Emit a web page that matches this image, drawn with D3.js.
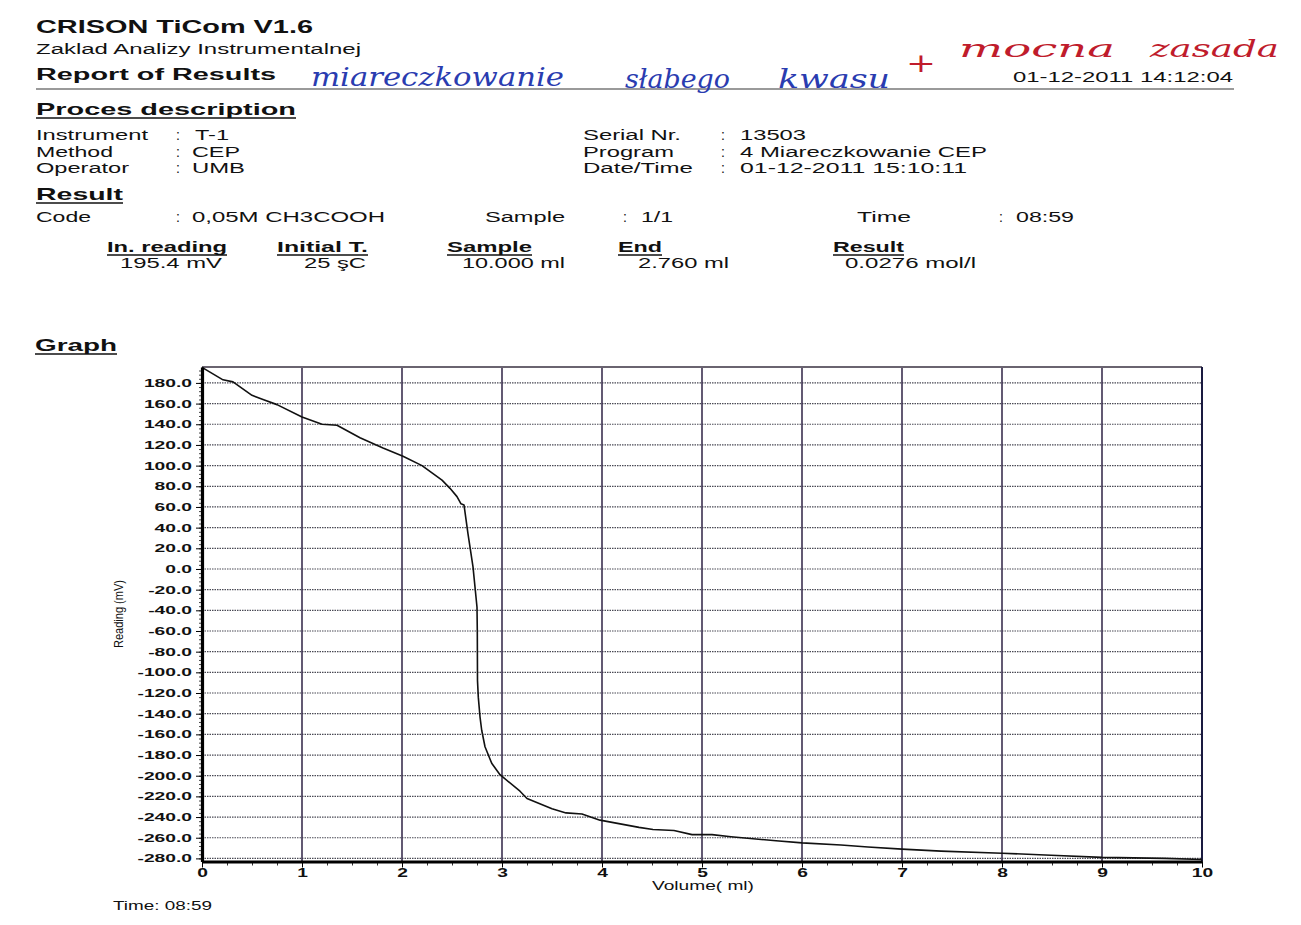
<!DOCTYPE html>
<html><head><meta charset="utf-8">
<script src="https://cdn.jsdelivr.net/npm/d3@7/dist/d3.min.js"></script>
<style>body{margin:0;background:#fff}svg{display:block}</style>
</head><body>
<svg id="c" width="1301" height="925"></svg>
<script>
// ---- data ----
const volume  = [0, 0.21, 0.31, 0.5, 0.61, 0.75, 1.0, 1.2, 1.35, 1.58, 1.81, 2.01, 2.2, 2.4, 2.48, 2.55, 2.59, 2.62, 2.66, 2.71, 2.75, 2.753, 2.755, 2.763, 2.78, 2.797, 2.83, 2.897, 2.98, 3.18, 3.25, 3.5, 3.64, 3.8, 3.98, 4.37, 4.51, 4.72, 4.9, 5.1, 5.29, 5.74, 6.0, 6.39, 6.66, 7.0, 7.39, 8.0, 8.49, 9.0, 9.63, 10.0];
const reading = [195, 183, 181, 168, 164, 159, 147, 140, 139, 127, 117, 109, 100, 86, 78, 70, 63, 62, 34, 2, -37, -60, -108, -124, -143, -156, -172, -188, -199, -215, -222, -232, -236, -237, -243, -250, -252, -253, -257, -257, -259, -263, -265, -267, -269, -271, -273, -275, -277, -279, -280, -281];
const yTicks = [180, 160, 140, 120, 100, 80, 60, 40, 20, 0, -20, -40, -60, -80, -100, -120, -140, -160, -180, -200, -220, -240, -260, -280];
const xTicks = [0, 1, 2, 3, 4, 5, 6, 7, 8, 9, 10];
const yDomain = [-283, 195.4];
const xDomain = [0, 10];

const svg = d3.select('#c');
const FONT = "'Liberation Sans', Arial, sans-serif";

// ---- header texts ----
function txt(s, x, yb, size, len, opt = {}) {
  const t = svg.append('text').attr('x', x).attr('y', yb).text(s)
    .attr('font-family', opt.family || FONT).attr('font-size', size)
    .attr('font-weight', opt.bold ? 'bold' : (opt.weight || 'normal'))
    .attr('fill', opt.fill || '#111');
  if (opt.italic) t.attr('font-style', 'italic');
  if (len) t.attr('textLength', len).attr('lengthAdjust', 'spacingAndGlyphs');
  if (opt.ul) svg.append('line').attr('x1', x).attr('x2', x + len).attr('y1', yb + 3).attr('y2', yb + 3)
    .attr('stroke', '#111').attr('stroke-width', 1.6);
  return t;
}
txt('CRISON TiCom V1.6', 36, 33, 18, 277, {bold: true});
txt('Zaklad Analizy Instrumentalnej', 36, 54, 14, 325);
txt('Report of Results', 36, 80, 16, 240, {bold: true});
txt('01-12-2011 14:12:04', 1013, 82, 15, 220);
svg.append('line').attr('x1', 36).attr('x2', 1234).attr('y1', 89).attr('y2', 89).attr('stroke', '#9a9a9a').attr('stroke-width', 2);

// handwriting
const HW = "'DejaVu Serif', serif";
txt('miareczkowanie', 311, 86, 26, 253, {family: HW, italic: true, fill: '#2a3cb0', weight: 300});
txt('słabego', 625, 88, 26, 105, {family: HW, italic: true, fill: '#2a3cb0', weight: 300});
txt('kwasu', 778, 88, 26, 112, {family: HW, italic: true, fill: '#2a3cb0', weight: 300});
txt('+', 906, 72, 26, 30, {family: HW, fill: '#c01c2c'});
txt('mocna', 959, 57, 24, 156, {family: HW, italic: true, fill: '#c01c2c', weight: 300});
txt('zasada', 1150, 57, 24, 129, {family: HW, italic: true, fill: '#c01c2c', weight: 300});

txt('Proces description', 36, 115, 17, 260, {bold: true, ul: true});
txt('Instrument', 36, 140, 14, 112);
txt('Method', 36, 157, 14, 77);
txt('Operator', 36, 173, 14, 93);
txt(':', 176, 140, 14); txt(':', 176, 157, 14); txt(':', 176, 173, 14);
txt('T-1', 195, 140, 14, 34);
txt('CEP', 192, 157, 14, 48);
txt('UMB', 192, 173, 14, 53);
txt('Serial Nr.', 583, 140, 14, 98);
txt('Program', 583, 157, 14, 91);
txt('Date/Time', 583, 173, 14, 110);
txt(':', 721, 140, 14); txt(':', 721, 157, 14); txt(':', 721, 173, 14);
txt('13503', 740, 140, 14, 66);
txt('4 Miareczkowanie CEP', 740, 157, 14, 247);
txt('01-12-2011  15:10:11', 740, 173, 14, 227);

txt('Result', 36, 200, 17, 87, {bold: true, ul: true});
txt('Code', 36, 222, 14, 55);
txt(':', 176, 222, 14);
txt('0,05M CH3COOH', 192, 222, 14, 193);
txt('Sample', 485, 222, 14, 80);
txt(':', 623, 222, 14);
txt('1/1', 641, 222, 14, 32);
txt('Time', 857, 222, 14, 54);
txt(':', 999, 222, 14);
txt('08:59', 1016, 222, 14, 58);

txt('In. reading', 107, 252, 14, 120, {bold: true, ul: true});
txt('Initial T.', 277, 252, 14, 91, {bold: true, ul: true});
txt('Sample', 447, 252, 14, 85, {bold: true, ul: true});
txt('End', 618, 252, 14, 44, {bold: true, ul: true});
txt('Result', 833, 252, 14, 71, {bold: true, ul: true});
txt('195.4 mV', 120, 268, 14, 102);
txt('25 şC', 304, 268, 14, 62);
txt('10.000 ml', 462, 268, 14, 103);
txt('2.760 ml', 638, 268, 14, 91);
txt('0.0276 mol/l', 845, 268, 14, 131);

txt('Graph', 35, 351, 16, 82, {bold: true, ul: true});

// ---- chart ----
const x = d3.scaleLinear().domain(xDomain).range([202, 1202]);
const y = d3.scaleLinear().domain(yDomain).range([861.5, 367]);
const g = svg.append('g');

// horizontal dotted grid
g.selectAll('line.hg').data(yTicks).join('line').attr('class', 'hg')
  .attr('x1', x(0)).attr('x2', x(10)).attr('y1', d => y(d)).attr('y2', d => y(d))
  .attr('stroke', '#4a4a55').attr('stroke-width', 1.2).attr('stroke-dasharray', '1.5,1');
// vertical solid grid
g.selectAll('line.vg').data(xTicks.slice(1, -1)).join('line').attr('class', 'vg')
  .attr('x1', d => x(d)).attr('x2', d => x(d)).attr('y1', y(yDomain[1])).attr('y2', y(yDomain[0]))
  .attr('stroke', '#3b3050').attr('stroke-width', 1.6);
// top and right border
g.append('line').attr('x1', x(0)).attr('x2', x(10)).attr('y1', y(yDomain[1])).attr('y2', y(yDomain[1]))
  .attr('stroke', '#6a6470').attr('stroke-width', 2);
g.append('line').attr('x1', x(10)).attr('x2', x(10)).attr('y1', y(yDomain[1])).attr('y2', y(yDomain[0]))
  .attr('stroke', '#1a1a40').attr('stroke-width', 2);

// curve
const pts = volume.map((v, i) => [v, reading[i]]);
g.append('path').datum(pts)
  .attr('d', d3.line().x(d => x(d[0])).y(d => y(d[1])))
  .attr('fill', 'none').attr('stroke', '#111').attr('stroke-width', 1.6).attr('stroke-linejoin', 'round');

// y axis
const SX = 1.75;
const minorY = d3.range(-280, 195, 4);
const yMinor = g.append('g').attr('transform', `translate(${x(0)},0)`)
  .call(d3.axisLeft(y).tickValues(minorY).tickSize(3).tickSizeOuter(0).tickFormat(''));
yMinor.select('.domain').remove();
yMinor.selectAll('line').attr('stroke', '#444');
const yAx = g.append('g').attr('transform', `translate(${x(0)},0)`)
  .call(d3.axisLeft(y).tickValues(yTicks).tickSize(6).tickSizeOuter(0).tickFormat(d => d.toFixed(1)));
yAx.select('.domain').attr('stroke', '#000').attr('stroke-width', 3.2);
yAx.selectAll('.tick text').attr('x', -10 / SX).attr('transform', `scale(${SX},1)`)
  .attr('font-family', FONT).attr('font-size', 11).attr('font-weight', 'bold').attr('fill', '#111');

// x axis
const minorX = d3.range(0, 10.01, 0.25);
const xMinor = g.append('g').attr('transform', `translate(0,${y(yDomain[0])})`)
  .call(d3.axisBottom(x).tickValues(minorX).tickSize(4).tickSizeOuter(0).tickFormat(''));
xMinor.select('.domain').remove();
xMinor.selectAll('line').attr('stroke', '#333');
const xAx = g.append('g').attr('transform', `translate(0,${y(yDomain[0])})`)
  .call(d3.axisBottom(x).tickValues(xTicks).tickSize(6).tickSizeOuter(0).tickFormat(d3.format('d')));
xAx.select('.domain').attr('stroke', '#000').attr('stroke-width', 3.2);
xAx.selectAll('.tick text').attr('y', 7).attr('transform', `scale(1.6,1)`)
  .attr('font-family', FONT).attr('font-size', 12).attr('font-weight', 'bold').attr('fill', '#111');

// axis titles
svg.append('text').attr('transform', 'translate(123,614) rotate(-90)').attr('text-anchor', 'middle')
  .attr('font-family', FONT).attr('font-size', 13).attr('fill', '#111')
  .attr('textLength', 68).attr('lengthAdjust', 'spacingAndGlyphs').text('Reading (mV)');
txt('Volume( ml)', 652, 890, 13, 102);
txt('Time: 08:59', 113, 910, 12, 99);
</script>
</body></html>
